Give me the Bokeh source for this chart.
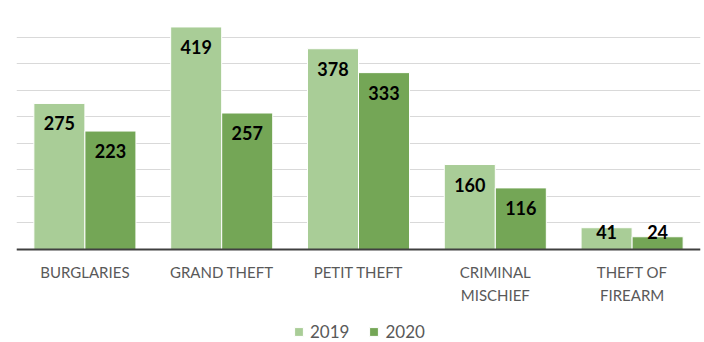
from bokeh.plotting import figure
from bokeh.models import Range1d, FixedTicker, Legend, LegendItem, ColumnDataSource, Span
from bokeh.core.properties import value
from bokeh.embed import file_html
from bokeh.resources import INLINE

# Offense counts by year
categories = ["BURGLARIES", "GRAND THEFT", "PETIT THEFT", "CRIMINAL\nMISCHIEF", "THEFT OF\nFIREARM"]
counts_2019 = [275, 419, 378, 160, 41]
counts_2020 = [223, 257, 333, 116, 24]
years = ["2019", "2020"]

LIGHT = "#A9CD97"
DARK = "#74A656"
TEXT_GRAY = "#595959"

# Layout: bar area is 239 px tall for 0..450; the frame also holds
# the category labels and legend below the baseline (93 px).
Y_MAX = 450
BAR_PX = 239
BELOW_PX = 93
unit = Y_MAX / BAR_PX          # data units per pixel
y_min = -BELOW_PX * unit

p = figure(width=704, height=342, output_backend="svg", toolbar_location=None,
           x_range=Range1d(-0.5, len(categories) - 0.5), y_range=Range1d(y_min, Y_MAX),
           min_border_top=10, min_border_left=16, min_border_right=4, min_border_bottom=0)
p.outline_line_color = None
p.background_fill_color = "white"
p.border_fill_color = "white"
p.xaxis.visible = False
p.yaxis.visible = False
p.xgrid.visible = False
p.ygrid.ticker = FixedTicker(ticks=list(range(0, Y_MAX + 1, 50)))
p.ygrid.grid_line_color = "#D9D9D9"
p.ygrid.grid_line_width = 1

bar_w = 0.373
idx = list(range(len(categories)))
x19 = [i - bar_w / 2 for i in idx]
x20 = [i + bar_w / 2 for i in idx]

def label_y(v):
    # value label sits ~20 px under the bar top, but never below the floor
    return max(v - 20 * unit, 18 * unit)

src19 = ColumnDataSource(dict(x=x19, top=counts_2019,
                              ly=[label_y(v) for v in counts_2019],
                              txt=[str(v) for v in counts_2019]))
src20 = ColumnDataSource(dict(x=x20, top=counts_2020,
                              ly=[label_y(v) for v in counts_2020],
                              txt=[str(v) for v in counts_2020]))

r19 = p.vbar(x="x", top="top", width=bar_w, source=src19, fill_color=LIGHT,
             line_color="white", line_width=1)
r20 = p.vbar(x="x", top="top", width=bar_w, source=src20, fill_color=DARK,
             line_color="white", line_width=1)

for src in (src19, src20):
    p.text(x="x", y="ly", text="txt", source=src, text_align="center",
           text_baseline="middle", text_font=value("Lato"), text_font_style="bold",
           text_font_size="18px", text_color="black")

# Baseline
p.add_layout(Span(location=0, dimension="width", line_color="#404040", line_width=2))

# Category labels under the baseline
cat_src = ColumnDataSource(dict(x=idx, y=[-13 * unit] * len(idx), txt=categories))
p.text(x="x", y="y", text="txt", source=cat_src, text_align="center",
       text_baseline="top", text_font=value("Lato"), text_font_size="15px",
       text_line_height=1.3, text_color=TEXT_GRAY)

# Legend
legend = Legend(items=[LegendItem(label=years[0], renderers=[r19]),
                       LegendItem(label=years[1], renderers=[r20])],
                orientation="horizontal", location=(277, 0),
                glyph_width=11, glyph_height=11, label_standoff=6, spacing=19,
                label_text_font="Lato", label_text_font_size="17px",
                label_text_color=TEXT_GRAY, border_line_color=None,
                background_fill_alpha=0, margin=0, padding=2)
p.add_layout(legend)

open("out.html", "w").write(file_html(p, INLINE))
